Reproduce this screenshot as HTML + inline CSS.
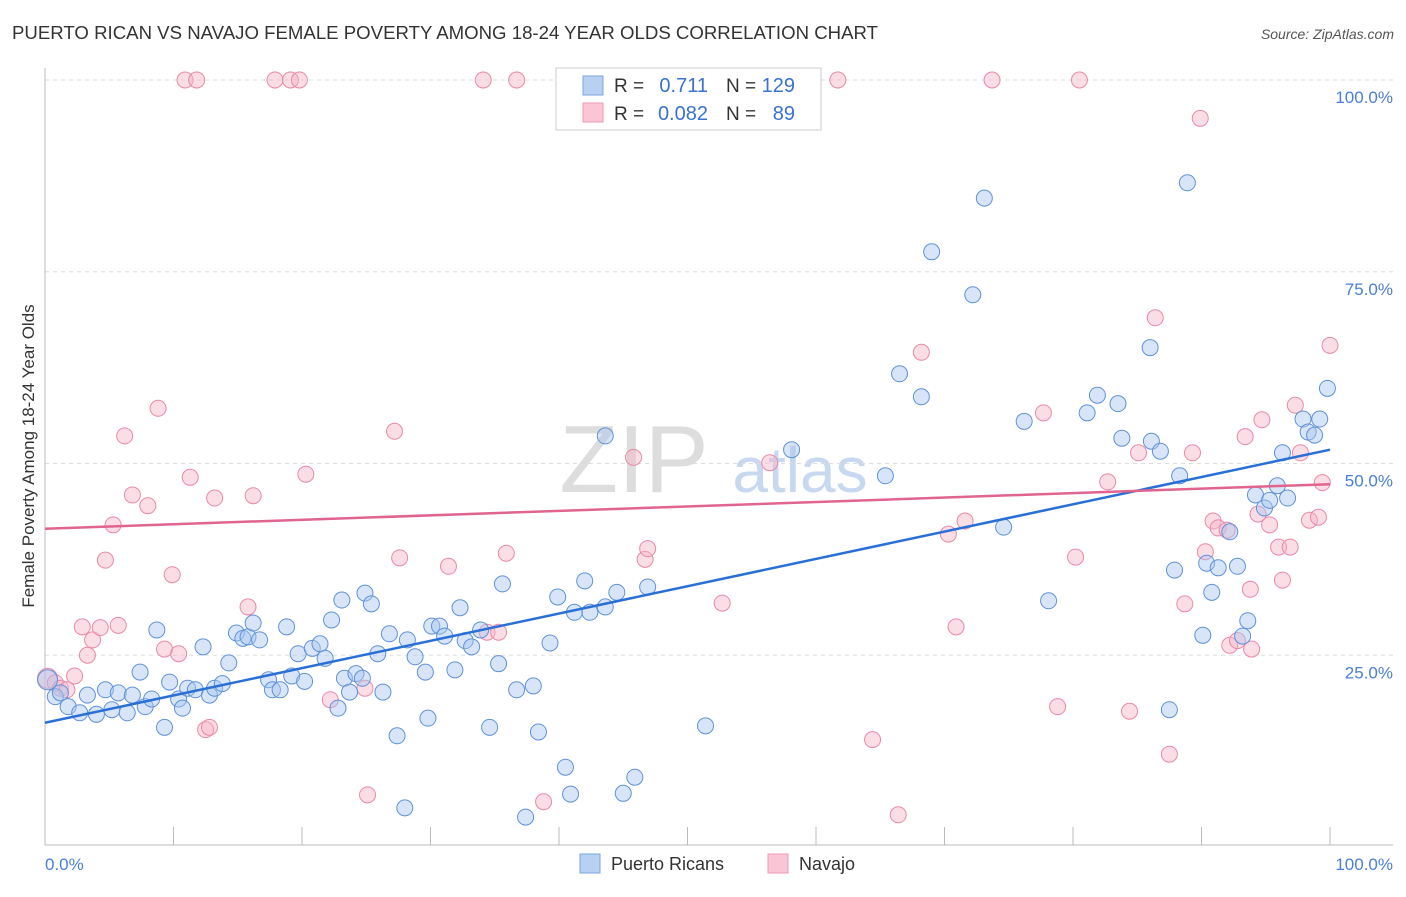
<!DOCTYPE html>
<html><head><meta charset="utf-8"><style>
body{margin:0;background:#fff;font-family:"Liberation Sans",sans-serif}
svg text{font-family:"Liberation Sans",sans-serif}
</style></head><body>
<svg id="chart" width="1406" height="892" xmlns="http://www.w3.org/2000/svg">
<text x="12" y="39" font-size="18" fill="#333" textLength="866" lengthAdjust="spacingAndGlyphs">PUERTO RICAN VS NAVAJO FEMALE POVERTY AMONG 18-24 YEAR OLDS CORRELATION CHART</text>
<text x="1394" y="39" font-size="14" fill="#555" text-anchor="end" font-style="italic">Source: ZipAtlas.com</text>
<text x="634" y="492" font-size="96" fill="#ddd" text-anchor="middle" font-family="Liberation Serif">ZIP</text>
<text x="800" y="492" font-size="64" fill="#c8d8f0" text-anchor="middle">atlas</text>
<g id="grid"></g><g id="axes"></g><g id="pts"></g><g id="lines"></g>
<text transform="translate(34,456) rotate(-90)" font-size="17" fill="#333" text-anchor="middle">Female Poverty Among 18-24 Year Olds</text>
<text x="45" y="870" font-size="17" fill="#4a7fd6">0.0%</text>
<text x="1393" y="870" font-size="17" fill="#4a7fd6" text-anchor="end">100.0%</text>
<g>
<rect x="556" y="68" width="265" height="62" fill="#fff" stroke="#ccc"/>
<rect x="583" y="76" width="20" height="19" fill="#b8d1f3" stroke="#7aa5e0"/>
<rect x="583" y="103" width="20" height="19" fill="#fac5d4" stroke="#ef9ab3"/>
<text x="614" y="92" font-size="19" fill="#333">R =</text><text x="708" y="92" font-size="20" fill="#3a72cf" text-anchor="end">0.711</text>
<text x="726" y="92" font-size="19" fill="#333">N =</text><text x="795" y="92" font-size="20" fill="#3a72cf" text-anchor="end">129</text>
<text x="614" y="120" font-size="19" fill="#333">R =</text><text x="708" y="120" font-size="20" fill="#3a72cf" text-anchor="end">0.082</text>
<text x="726" y="120" font-size="19" fill="#333">N =</text><text x="795" y="120" font-size="20" fill="#3a72cf" text-anchor="end">89</text>
</g>
<g>
<rect x="580" y="854" width="20" height="19" fill="#b8d1f3" stroke="#7aa5e0"/>
<text x="611" y="870" font-size="18" fill="#333">Puerto Ricans</text>
<rect x="768" y="854" width="20" height="19" fill="#fac5d4" stroke="#ef9ab3"/>
<text x="799" y="870" font-size="18" fill="#333">Navajo</text>
</g>
</svg>
<script>
const yTicks=[25,50,75,100];
const yTickLabels=["25.0%","50.0%","75.0%","100.0%"];
const xTicks=[0,10,20,30,40,50,60,70,80,90,100];
const blueX=[0.2,0.8,1.2,1.8,2.7,3.3,4.0,4.7,5.2,5.7,6.4,6.8,7.4,7.8,8.3,8.7,9.3,9.7,10.4,10.7,11.1,11.7,12.3,12.8,13.2,13.8,14.3,14.9,15.4,15.8,16.2,16.7,17.4,17.7,18.3,18.8,19.2,19.7,20.2,20.8,21.4,21.8,22.3,22.8,23.1,23.3,23.7,24.2,24.7,24.9,25.4,25.9,26.3,26.8,27.4,28.0,28.2,28.8,29.6,29.8,30.1,30.7,31.1,31.9,32.3,32.7,33.2,33.9,34.6,35.3,35.6,36.7,37.4,38.0,38.4,39.3,39.9,40.5,40.9,41.2,42.0,42.4,43.6,43.6,44.5,45.0,45.9,46.9,51.4,58.1,65.4,66.5,68.2,69.0,72.2,73.1,74.6,76.2,78.1,81.1,81.9,83.5,83.8,86.0,86.1,86.8,87.5,87.9,88.3,88.9,90.1,90.4,90.8,91.3,92.2,92.8,93.2,93.6,94.2,94.9,95.3,95.9,96.3,96.7,97.9,98.3,98.8,99.2,99.8];
const blueY=[21.8,19.6,20.1,18.3,17.5,19.8,17.3,20.5,17.9,20.1,17.5,19.8,22.8,18.3,19.3,28.3,15.6,21.5,19.3,18.1,20.7,20.5,26.1,19.8,20.7,21.3,24.0,27.9,27.2,27.4,29.2,27.0,21.8,20.5,20.5,28.7,22.3,25.2,21.6,25.9,26.5,24.6,29.6,18.1,32.2,22.0,20.2,22.6,22.0,33.1,31.7,25.2,20.2,27.8,14.5,5.1,27.0,24.8,22.8,16.8,28.8,28.8,27.5,23.1,31.2,26.9,26.1,28.3,15.6,23.9,34.3,20.5,3.9,21.0,15.0,26.6,32.6,10.4,6.9,30.6,34.7,30.6,31.3,53.6,33.2,7.0,9.1,33.9,15.8,51.8,48.4,61.7,58.7,77.6,72.0,84.6,41.7,55.5,32.1,56.6,58.9,57.8,53.3,65.1,52.9,51.6,17.9,36.1,48.4,86.6,27.6,37.0,33.2,36.4,41.1,36.6,27.5,29.5,45.9,44.2,45.2,47.1,51.4,45.5,55.8,54.1,53.7,55.8,59.8];
const pinkX=[0.2,0.8,1.2,1.7,2.3,2.9,3.3,3.7,4.3,4.7,5.3,5.7,6.2,6.8,8.0,8.8,9.3,9.9,10.4,10.9,11.3,11.8,12.5,12.8,13.2,15.8,16.2,17.9,19.1,19.8,20.3,22.2,24.9,25.1,27.2,27.6,31.4,34.1,34.4,35.3,35.9,36.7,38.8,45.8,46.7,46.9,52.7,56.4,61.7,64.4,66.4,68.2,70.3,70.9,71.6,73.7,77.7,78.8,80.2,80.5,82.7,84.4,85.1,86.4,87.5,88.7,89.3,89.9,90.3,90.9,91.3,92.0,92.2,92.8,93.4,93.8,93.9,94.4,94.7,95.3,96.0,96.3,96.9,97.3,97.7,98.4,99.1,99.4,100];
const pinkY=[22.0,21.4,20.7,20.5,22.3,28.7,25.0,27.0,28.6,37.4,42.0,28.9,53.6,45.9,44.5,57.2,25.8,35.5,25.2,100,48.2,100,15.3,15.6,45.5,31.3,45.8,100,100,100,48.6,19.2,20.7,6.8,54.2,37.7,36.6,100,28.0,28.0,38.3,100,5.9,50.8,37.5,38.9,31.8,50.1,100,14.0,4.2,64.5,40.8,28.7,42.5,100,56.6,18.3,37.8,100,47.6,17.7,51.4,69.0,12.1,31.7,51.4,95.0,38.5,42.5,41.6,41.3,26.3,26.9,53.5,33.6,25.8,43.4,55.7,42.0,39.1,34.8,39.1,57.6,51.4,42.6,43.0,47.5,65.4];
const blueFit=[16.2,51.8];
const pinkFit=[41.5,47.3];
const NS="http://www.w3.org/2000/svg";
const X0=45,X1=1330,Y0=847,Y100=80;
const sx=v=>X0+(X1-X0)*v/100;
const sy=v=>Y0-(Y0-Y100)*v/100;
function mk(tag,attrs,parent){const e=document.createElementNS(NS,tag);for(const k in attrs)e.setAttribute(k,attrs[k]);parent.appendChild(e);return e;}
const grid=document.getElementById('grid'),axes=document.getElementById('axes'),pts=document.getElementById('pts'),lines=document.getElementById('lines');
yTicks.forEach((t,i)=>{
 const l=mk('line',{x1:45,x2:1393,y1:sy(t),y2:sy(t),stroke:'#ddd','stroke-dasharray':'4,4'},grid);
 
 
 const tx=mk('text',{x:1393,y:sy(t)+23,'font-size':17,fill:'#4a7fd6','text-anchor':'end'},grid);
 tx.textContent=yTickLabels[i];
 
 
});
const ya=mk('line',{x1:45,x2:45,y1:68,y2:845,stroke:'#bbb'},axes);


const xa=mk('line',{x1:45,x2:1393,y1:845,y2:845,stroke:'#bbb'},axes);


xTicks.forEach(t=>{
 const l=mk('line',{x1:sx(t),x2:sx(t),y1:827,y2:845,stroke:'#bbb'},axes);
 
 
});
function dots(xs,ys,fill,stroke,name){
 xs.forEach((x,i)=>{
  const c=mk('circle',{cx:sx(x),cy:sy(ys[i]),r:i===0?10:8,fill:fill,'fill-opacity':0.45,stroke:stroke,'stroke-width':1},pts);
  
  
 });
}
dots(pinkX,pinkY,'#f7b3c7','#e98aa8','navajo-point');
dots(blueX,blueY,'#a9c6ef','#5f92d9','puerto-rican-point');
const bl=mk('line',{x1:sx(0),y1:sy(blueFit[0]),x2:sx(100),y2:sy(blueFit[1]),stroke:'#2a6fd6','stroke-width':2.5},lines);


const pl=mk('line',{x1:sx(0),y1:sy(pinkFit[0]),x2:sx(100),y2:sy(pinkFit[1]),stroke:'#e0648f','stroke-width':2.5},lines);


</script>
</body></html>
